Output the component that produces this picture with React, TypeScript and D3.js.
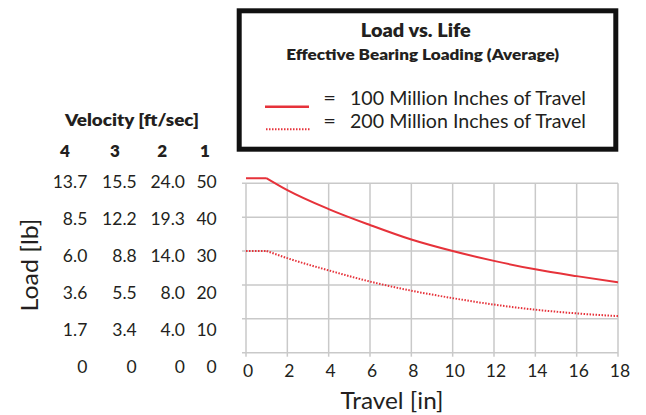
import React from 'react';
import * as d3 from 'd3';

// ---- data ----
const travel = [0, 1, 2, 4, 6, 8, 10, 12, 14, 16, 18];
const load100M = [51.5, 51.5, 48.0, 42.4, 37.7, 33.4, 30.0, 27.1, 24.6, 22.6, 20.8];
const load200M = [30.0, 30.0, 27.9, 24.3, 21.0, 18.3, 16.1, 14.2, 12.7, 11.6, 10.8];
const xTicks = [0, 2, 4, 6, 8, 10, 12, 14, 16, 18];
const yTicks = [0, 10, 20, 30, 40, 50];

const velocityHeaders = ['4', '3', '2', '1'];
const velocity4 = ['13.7', '8.5', '6.0', '3.6', '1.7', '0'];
const velocity3 = ['15.5', '12.2', '8.8', '5.5', '3.4', '0'];
const velocity2 = ['24.0', '19.3', '14.0', '8.0', '4.0', '0'];
const velocity1 = ['50', '40', '30', '20', '10', '0'];
const tableLoads = [50, 40, 30, 20, 10, 0];

const legendLabels = ['100 Million Inches of Travel', '200 Million Inches of Travel'];

// ---- layout / style ----
const W = 646;
const H = 415;
const RED = '#e6323a';
const GRID = '#c9c9c9';
const INK = '#231f20';
const FONT = 'Lato, "Noto Sans", sans-serif';

const x = d3.scaleLinear().domain([0, 18]).range([246, 618]);
const y = d3.scaleLinear().domain([0, 50]).range([352.7, 183.3]);
const rowY = d3.scaleLinear().domain([50, 0]).range([188.3, 373.3]);
const colRight = [87.3, 136.7, 185, 216.7];
const colHeadX = [65, 115, 162.3, 205];

function seriesPath(xs: number[], ys: number[]): string {
  const pts: [number, number][] = xs.map((v, i) => [v, ys[i]]);
  const lin = d3.line<[number, number]>().x(d => x(d[0])).y(d => y(d[1]));
  const mono = d3
    .line<[number, number]>()
    .x(d => x(d[0]))
    .y(d => y(d[1]))
    .curve(d3.curveMonotoneX);
  return (lin(pts.slice(0, 2)) || '') + (mono(pts.slice(1)) || '');
}

export default function App() {
  const columns = [velocity4, velocity3, velocity2, velocity1];
  const fit = 'spacingAndGlyphs';
  return (
    <svg
      width={W}
      height={H}
      viewBox={`0 0 ${W} ${H}`}
      style={{ position: 'absolute', left: 0, top: 0, background: '#fff' }}
      fontFamily={FONT}
    >
      {/* grid */}
      <g stroke={GRID} strokeWidth={1.5}>
        {yTicks.map(t => (
          <line key={'h' + t} x1={x(0) - 4} x2={x(18)} y1={y(t)} y2={y(t)} />
        ))}
        {xTicks.map(t => (
          <line key={'v' + t} x1={x(t)} x2={x(t)} y1={y(50)} y2={y(0) + 4} />
        ))}
      </g>

      {/* x tick labels */}
      <g fontSize={17.5} fill={INK} textAnchor="middle">
        {xTicks.map(t => (
          <text key={'xt' + t} x={x(t) + 2} y={376.7}>
            {t}
          </text>
        ))}
      </g>

      {/* series */}
      <path d={seriesPath(travel, load100M)} fill="none" stroke={RED} strokeWidth={2} />
      <path
        d={seriesPath(travel, load200M)}
        fill="none"
        stroke={RED}
        strokeWidth={2}
        strokeDasharray="1.5 1.5"
      />

      {/* axis titles */}
      <text x={392} y={409} fontSize={24} fill={INK} textAnchor="middle" textLength={103} lengthAdjust={fit}>
        Travel [in]
      </text>
      <text
        transform="translate(38,265) rotate(-90)"
        fontSize={24}
        fill={INK}
        textAnchor="middle"
        textLength={93}
        lengthAdjust={fit}
      >
        Load [lb]
      </text>

      {/* velocity table */}
      <text
        x={132}
        y={126}
        fontSize={17}
        fontWeight={800}
        fill={INK}
        textAnchor="middle"
        textLength={134}
        lengthAdjust={fit}
      >
        Velocity [ft/sec]
      </text>
      {velocityHeaders.map((h, i) => (
        <text
          key={'vh' + h}
          x={colHeadX[i]}
          y={156.7}
          fontSize={17}
          fontWeight={800}
          fill={INK}
          textAnchor="middle"
        >
          {h}
        </text>
      ))}
      {columns.map((col, ci) =>
        col.map((v, ri) => (
          <text
            key={'c' + ci + 'r' + ri}
            x={colRight[ci]}
            y={rowY(tableLoads[ri])}
            fontSize={17.5}
            fill={INK}
            textAnchor="end"
          >
            {v}
          </text>
        ))
      )}

      {/* legend box */}
      <rect x={239.2} y={10.8} width={376.6} height={138.4} fill="#fff" stroke="#111" strokeWidth={5} />
      <text
        x={415.8}
        y={36.7}
        fontSize={19}
        fontWeight={800}
        fill={INK}
        textAnchor="middle"
        textLength={110}
        lengthAdjust={fit}
      >
        Load vs. Life
      </text>
      <text
        x={422.7}
        y={60}
        fontSize={15.5}
        fontWeight={800}
        fill={INK}
        textAnchor="middle"
        textLength={273}
        lengthAdjust={fit}
      >
        Effective Bearing Loading (Average)
      </text>
      <line x1={265} x2={309} y1={106.7} y2={106.7} stroke={RED} strokeWidth={2.5} />
      <line
        x1={266}
        x2={310}
        y1={129.3}
        y2={129.3}
        stroke={RED}
        strokeWidth={2}
        strokeDasharray="1.5 1.5"
      />
      {legendLabels.map((lab, i) => (
        <g key={lab} fontSize={19} fill={INK}>
          <text x={323.3} y={105 + i * 22.7} textLength={12.7} lengthAdjust={fit}>
            =
          </text>
          <text x={350} y={105 + i * 22.7} textLength={236} lengthAdjust={fit}>
            {lab}
          </text>
        </g>
      ))}
    </svg>
  );
}
